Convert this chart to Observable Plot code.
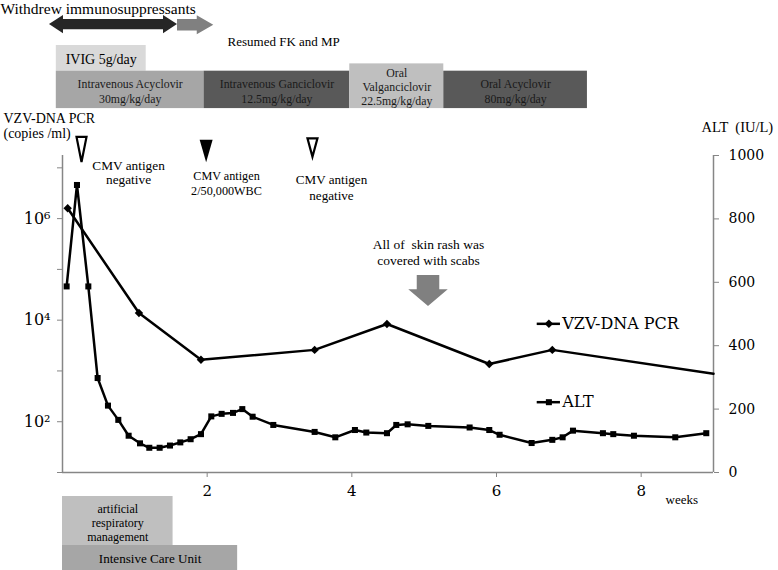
<!DOCTYPE html>
<html><head><meta charset="utf-8">
<script src="https://cdn.jsdelivr.net/npm/d3@7"></script>
<script src="https://cdn.jsdelivr.net/npm/@observablehq/plot@0.6"></script>
<style>
body{margin:0;background:#fff;}
#wrap{position:relative;width:778px;height:570px;overflow:hidden;}
#wrap svg{position:absolute;left:0;top:0;}
</style></head><body><div id="wrap"></div>
<script>
// ---------- data (x in days) ----------
const vzvDay    = [0.5, 7.4, 13.4, 24.4, 31.4, 41.3, 47.4, 63];
const vzvCopies = [1.6e6, 1.38e4, 1660, 2600, 8400, 1370, 2600, 880];

const altDay = [0.4,1.4,2.5,3.4,4.4,5.4,6.4,7.5,8.4,9.4,10.4,11.4,12.4,13.4,14.4,15.4,16.5,17.4,18.4,20.4,
                24.4,26.4,28.3,29.4,31.4,32.3,33.4,35.4,39.4,41.3,42.3,45.4,47.4,48.4,49.4,52.3,53.3,55.3,59.3,62.3];
const altValue = [587,907,587,298,211,166,116,92,78,78,85,95,105,121,177,185,188,200,176,150,
                  128,111,134,126,124,150,152,147,142,134,119,93,103,111,132,124,121,116,111,124];

const weekTicks = [2, 4, 6, 8];
const altTicks = [0, 200, 400, 600, 800, 1000];
const vzvTicks = [1e1, 1e2, 1e3, 1e4, 1e5, 1e6, 1e7];
const vzvTickLabels = ["", "10²", "", "10⁴", "", "10⁶", ""];

const drugNames = ["Intravenous Acyclovir\n30mg/kg/day", "Intravenous Ganciclovir\n12.5mg/kg/day",
                   "Oral\nValganciclovir\n22.5mg/kg/day", "Oral Acyclovir\n80mg/kg/day"];
const drugStart = [-0.6, 13.7, 27.8, 36.9];
const drugEnd   = [13.7, 27.8, 36.9, 50.8];
const ivigLabel = "IVIG 5g/day", ivigStart = -0.6, ivigEnd = 8.1;
const withdrewStart = -1.26, withdrewEnd = 11.13, resumedEnd = 14.64;
const cmvDay = [1.84, 13.9, 24.19];
const cmvText = ["CMV antigen\nnegative", "CMV antigen\n2/50,000WBC", "CMV antigen\nnegative"];
const cmvTextDay = [6.39, 15.87, 26.03];
const scabDay = 35.42;
const respLabel = "artificial\nrespiratory\nmanagement", respStart = 0, respEnd = 10.7;
const icuLabel = "Intensive Care Unit", icuStart = 0, icuEnd = 16.95;

// ---------- build tables ----------
const alt = altDay.map((d, i) => ({day: d, v: altValue[i]}));
const vzv = vzvDay.map((d, i) => ({day: d, v: vzvCopies[i]}));
const drugFill = ["#a6a6a6", "#595959", "#bfbfbf", "#595959"];
const drugs = drugNames.map((name, i) => ({name, start: drugStart[i], end: drugEnd[i], fill: drugFill[i]}));
const vzvLabel = new Map(vzvTicks.map((t, i) => [t, vzvTickLabels[i]]));

const grey = "#868686";
const W = 778, H = 570;
const margins = {marginTop: 155, marginRight: 65, marginBottom: 98, marginLeft: 62};
const XD = [0, 63];

function hArrow(x0, x1, yc, sh, hh, hl, both) {
  const p = [];
  if (both) p.push([x0, yc, yc], [x0 + hl, yc - hh, yc + hh], [x0 + hl, yc - sh, yc + sh]);
  else p.push([x0, yc - sh, yc + sh]);
  p.push([x1 - hl, yc - sh, yc + sh], [x1 - hl, yc - hh, yc + hh], [x1, yc, yc]);
  return p;
}
function downTri(hw, hh) {
  return {draw(c) { c.moveTo(-hw, -hh); c.lineTo(hw, -hh); c.lineTo(0, hh); c.closePath(); }};
}
const serif = "'Liberation Serif', 'Times New Roman', serif";
const axisFont = "'DejaVu Serif', serif";
const T = (opts) => ({fontFamily: serif, lineAnchor: "bottom", text: d => d, ...opts});

const plotA = Plot.plot({
  width: W, height: H, ...margins,
  style: {fontFamily: serif, color: "black", background: "transparent", overflow: "visible"},
  x: {domain: XD, axis: null, label: null},
  y: {domain: [0, 1000], axis: null, label: null},
  marks: [
    // top: immunosuppressant arrows
    Plot.area(hArrow(withdrewStart, withdrewEnd, 1413, 16, 29, 1.355, true),
      {x1: d => d[0], y1: d => d[1], y2: d => d[2], fill: "#262626"}),
    Plot.area(hArrow(withdrewEnd, resumedEnd, 1411, 18, 30, 1.6, false),
      {x1: d => d[0], y1: d => d[1], y2: d => d[2], fill: "#808080"}),
    Plot.text(["Withdrew immunosuppressants"], T({x: -6.0, y: 1447, textAnchor: "start", fontSize: 15.5})),
    Plot.text(["Resumed FK and MP"], T({x: 15.97, y: 1347, textAnchor: "start", fontSize: 13})),
    // IVIG
    Plot.rect([ivigLabel], {x1: ivigStart, x2: ivigEnd, y1: 1266, y2: 1347, fill: "#d9d9d9"}),
    Plot.text([ivigLabel], T({x: (ivigStart + ivigEnd) / 2, y: 1290, fontSize: 14})),
    // drugs
    Plot.rect(drugs, {x1: "start", x2: "end", y1: 1148, y2: d => d.name.startsWith("Oral\n") ? 1289 : 1266, fill: "fill"}),
    Plot.text(drugs, {x: d => (d.start + d.end) / 2, y: d => d.name.startsWith("Oral\n") ? 1158 : 1167, text: "name",
      fontFamily: serif, lineAnchor: "bottom", fontSize: 11.8, lineHeight: 1.22, fill: "#1a1a1a"}),
    // axis titles
    Plot.text(["VZV-DNA PCR\n(copies /ml)"], T({x: -5.71, y: 1055, textAnchor: "start", fontSize: 14, lineHeight: 1.1})),
    Plot.text(["ALT  (IU/L)"], T({x: 61.84, y: 1072.6, textAnchor: "start", fontSize: 14.5})),
    Plot.text(["weeks"], T({x: 58.36, y: -97.8, textAnchor: "start", fontSize: 13})),
    // CMV markers
    Plot.dot([cmvDay[0]], {x: d => d, y: 1019, symbol: downTri(5, 12.6), fill: "white", stroke: "black", strokeWidth: 2.2}),
    Plot.dot([cmvDay[1]], {x: d => d, y: 1014, symbol: downTri(6.5, 11.2), fill: "black", stroke: "none"}),
    Plot.dot([cmvDay[2]], {x: d => d, y: 1025, symbol: downTri(5, 9.3), fill: "white", stroke: "black", strokeWidth: 2.2}),
    Plot.text([cmvText[0]], T({x: cmvTextDay[0], y: 911, fontSize: 13.3, lineHeight: 1.05})),
    Plot.text([cmvText[1]], T({x: cmvTextDay[1], y: 874, fontSize: 12.2, lineHeight: 1.23})),
    Plot.text([cmvText[2]], T({x: cmvTextDay[2], y: 861, fontSize: 13.1, lineHeight: 1.2})),
    // scabs
    Plot.text(["All of  skin rash was\ncovered with scabs"], T({x: scabDay, y: 656, fontSize: 13.5, lineHeight: 1.16})),
    Plot.area([[621.5, 34.33, 36.51], [576.3, 34.33, 36.51], [576.3, 33.51, 37.33], [523.7, scabDay, scabDay]],
      {y1: d => d[0], x1: d => d[1], x2: d => d[2], fill: "#808080"}),
    // bottom boxes
    Plot.rect([respLabel], {x1: respStart, x2: respEnd, y1: -230.3, y2: -75.7, fill: "#bfbfbf"}),
    Plot.text([respLabel], T({x: (respStart + respEnd) / 2, y: -216.7, fontSize: 12, lineHeight: 1.17})),
    Plot.rect([icuLabel], {x1: icuStart, x2: icuEnd, y1: -315, y2: -230.3, fill: "#a6a6a6"}),
    Plot.text([icuLabel], T({x: (icuStart + icuEnd) / 2, y: -287, fontSize: 13.1})),
    // axes
    Plot.ruleY([0], {x1: XD[0], x2: XD[1], stroke: grey, strokeWidth: 1.5}),
    Plot.ruleX([XD[1]], {y1: 0, y2: 1000, stroke: grey, strokeWidth: 1.5}),
    Plot.axisY(altTicks, {anchor: "right", tickSize: 5, tickPadding: 10, tickFormat: d => String(d), stroke: grey, fontFamily: axisFont, fontSize: 14, label: null}),
    Plot.axisX(weekTicks.map(w => w * 7), {anchor: "bottom", tickSize: 5, tickPadding: 8, tickFormat: d => String(d / 7), stroke: grey, fontFamily: axisFont, fontSize: 15, label: null}),
    // ALT series
    Plot.line(alt, {x: "day", y: "v", stroke: "black", strokeWidth: 2.5}),
    Plot.dot(alt, {x: "day", y: "v", symbol: "square", r: 3.4, fill: "black"}),
    // legend
    Plot.ruleY([469], {x1: 45.94, x2: 48.19, stroke: "black", strokeWidth: 2.5}),
    Plot.dot([469], {x: 47.07, y: d => d, symbol: "diamond2", r: 3.8, fill: "black"}),
    Plot.text(["VZV-DNA PCR"], {x: 48.36, y: 469, text: d => d, textAnchor: "start", fontFamily: axisFont, fontSize: 16}),
    Plot.ruleY([221.8], {x1: 45.94, x2: 48.19, stroke: "black", strokeWidth: 2.5}),
    Plot.dot([221.8], {x: 47.07, y: d => d, symbol: "square", r: 3.4, fill: "black"}),
    Plot.text(["ALT"], {x: 48.36, y: 221.8, text: d => d, textAnchor: "start", fontFamily: axisFont, fontSize: 16})
  ]
});

const vzvTop = 10 ** 7.243;
const plotB = Plot.plot({
  width: W, height: H, ...margins,
  style: {fontFamily: axisFont, color: "black", background: "transparent", overflow: "visible"},
  x: {domain: XD, axis: null, label: null},
  y: {type: "log", domain: [10, vzvTop], axis: null, label: null},
  marks: [
    Plot.ruleX([XD[0]], {y1: 10, y2: vzvTop, stroke: grey, strokeWidth: 1.5}),
    Plot.axisY(vzvTicks, {anchor: "left", tickSize: 5, tickPadding: 7, tickFormat: d => vzvLabel.get(d), stroke: grey, fontSize: 16, label: null}),
    Plot.line(vzv, {x: "day", y: "v", stroke: "black", strokeWidth: 2.5}),
    Plot.dot(vzv.slice(0, -1), {x: "day", y: "v", symbol: "diamond2", r: 3.8, fill: "black"})
  ]
});

const wrap = document.getElementById("wrap");
wrap.appendChild(plotA);
wrap.appendChild(plotB);
</script>
</body></html>
